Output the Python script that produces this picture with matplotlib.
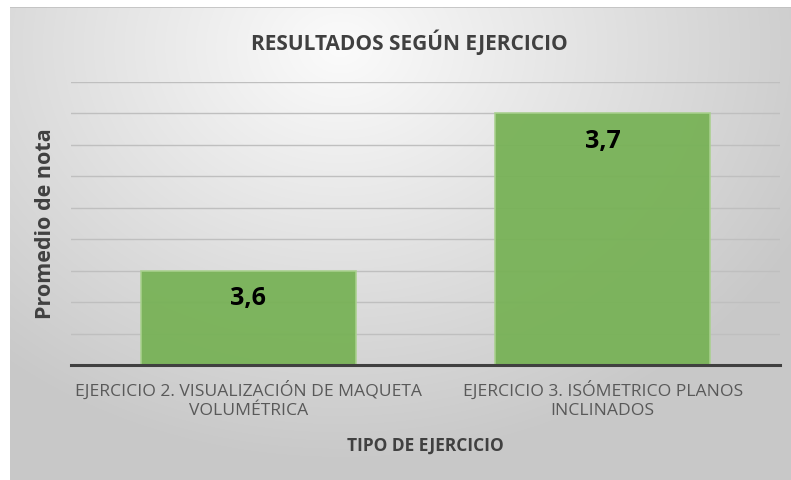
import numpy as np
import matplotlib
matplotlib.use('Agg')
import matplotlib.pyplot as plt

categories = ['EJERCICIO 2. VISUALIZACIÓN DE MAQUETA\nVOLUMÉTRICA',
              'EJERCICIO 3. ISÓMETRICO PLANOS\nINCLINADOS']
values = [3.6, 3.7]
value_labels = ['3,6', '3,7']

W, H = 791, 480
fig = plt.figure(figsize=(W / 100, H / 100), dpi=100)
plt.rcParams['font.family'] = ['Open Sans', 'DejaVu Sans']

# fondo con degradado radial (gris en los bordes, blanco cerca del titulo)
bg = fig.add_axes([10 / W, 0, 1 - 10 / W, 1 - 7 / H])
yy, xx = np.mgrid[0:473, 0:781]
d = np.hypot((xx - 330) / 1.0, (yy - 40) / 0.8)
g = np.clip(d / 520, 0, 1)
shade = 0.985 - 0.20 * g
img = np.dstack([shade, shade, shade])
bg.imshow(img, aspect='auto', extent=[0, 1, 0, 1], origin='upper')
bg.axhline(1, color='#c0c0c0', lw=1.2)
bg.set_axis_off()

# area del grafico
ax = fig.add_axes([71 / W, 1 - 365 / H, (780 - 71) / W, (365 - 82) / H])
ax.patch.set_alpha(0)
x = np.arange(len(categories))
ax.bar(x, values, width=0.607, color='#78b257', edgecolor='#a9d18e',
       linewidth=1.2, alpha=0.95, zorder=2)
ax.set_xlim(-0.5, 1.5)
ax.set_ylim(3.54, 3.72)
ax.set_yticks(np.arange(3.54, 3.7201, 0.02))
ax.yaxis.grid(True, color='#bfbfbf', lw=1.0, zorder=1)
ax.tick_params(axis='y', length=0, labelleft=False)
ax.tick_params(axis='x', length=0, pad=11)
ax.set_xticks(x)
ax.set_xticklabels(categories, fontsize=12.6, color='#595959', linespacing=1.3)
for s in ['top', 'right', 'left']:
    ax.spines[s].set_visible(False)
ax.spines['bottom'].set_color('#404040')
ax.spines['bottom'].set_linewidth(2.2)
ax.spines['bottom'].set_zorder(3)

for xi, v, lab in zip(x, values, value_labels):
    ax.annotate(lab, (xi, v), xytext=(0, -20), textcoords='offset points',
                ha='center', va='center', fontsize=18, fontweight='bold',
                color='black', zorder=4)

fig.text(409 / W, 1 - 42 / H, 'RESULTADOS SEGÚN EJERCICIO', ha='center',
         va='center', fontsize=15, fontweight='bold', color='#404040')
fig.text(46 / W, 1 - 224 / H, 'Promedio de nota', ha='center', va='center',
         rotation=90, fontsize=15.5, fontweight='bold', color='#404040')
fig.text(425 / W, 1 - 446 / H, 'TIPO DE EJERCICIO', ha='center', va='center',
         fontsize=12.5, fontweight='bold', color='#404040')

fig.savefig('out.png', dpi=100)
